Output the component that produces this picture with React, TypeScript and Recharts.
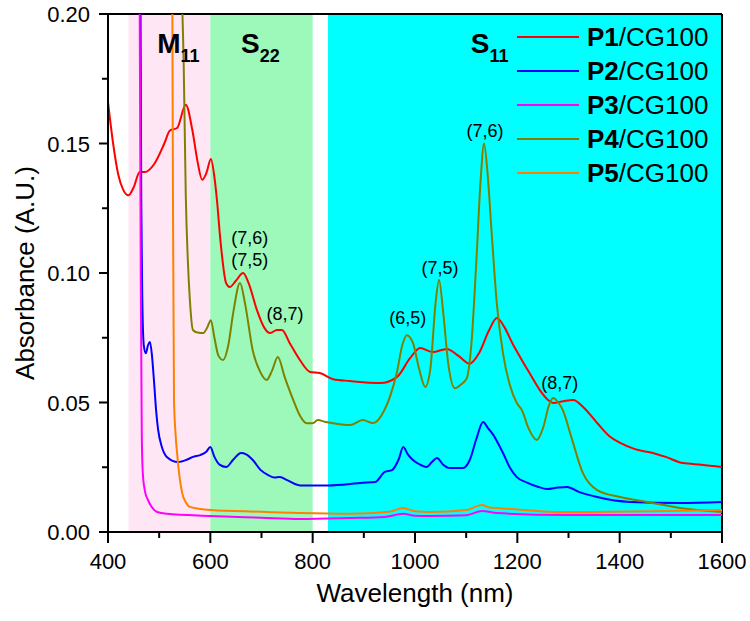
import React from 'react';
import { LineChart, Line, XAxis, YAxis, ReferenceArea, ReferenceLine, ReferenceDot } from 'recharts';

const font = '"Liberation Sans", Arial, sans-serif';

// wavelength (nm), absorbance
const p1 = [
  [400, 0.166], [410, 0.150], [420, 0.138], [430, 0.132], [440, 0.130], [450, 0.133], [462, 0.139],
  [472, 0.139], [490, 0.142], [510, 0.150], [521, 0.155], [535, 0.156], [552, 0.165], [565, 0.155],
  [575, 0.143], [584, 0.136], [593, 0.139], [601, 0.144], [608, 0.137], [613, 0.128], [620, 0.112],
  [631, 0.096], [638, 0.0946], [650, 0.097], [664, 0.100], [675, 0.096], [691, 0.0857], [705, 0.079],
  [717, 0.0768], [730, 0.078], [740, 0.078], [755, 0.073], [775, 0.0664], [795, 0.0618], [814, 0.0614],
  [840, 0.059], [873, 0.0583], [932, 0.0575], [965, 0.0599], [990, 0.067], [1010, 0.071], [1035, 0.0695],
  [1062, 0.0707], [1085, 0.068], [1107, 0.065], [1125, 0.069], [1145, 0.078], [1160, 0.0826], [1175, 0.079],
  [1190, 0.073], [1205, 0.0677], [1225, 0.061], [1244, 0.0548], [1260, 0.051], [1270, 0.0498], [1290, 0.0505],
  [1309, 0.051], [1330, 0.048], [1356, 0.0421], [1380, 0.037], [1401, 0.0344], [1430, 0.032], [1465, 0.0305],
  [1490, 0.029], [1524, 0.0266], [1560, 0.026], [1600, 0.0251],
];

const p2 = [
  [463, 0.23], [465, 0.128], [467, 0.09], [470, 0.072], [474, 0.069], [478, 0.072], [482, 0.0734],
  [486, 0.068], [490, 0.058], [494, 0.047], [498, 0.0394], [505, 0.033], [515, 0.029], [537, 0.027],
  [555, 0.028], [566, 0.029], [580, 0.0297], [592, 0.031], [600, 0.0328], [608, 0.029], [618, 0.026],
  [631, 0.0251], [645, 0.028], [660, 0.0305], [670, 0.030], [683, 0.0278], [698, 0.024], [713, 0.022],
  [725, 0.021], [736, 0.0212], [750, 0.020], [775, 0.018], [830, 0.018], [898, 0.019], [922, 0.0193],
  [941, 0.0232], [955, 0.0239], [968, 0.028], [977, 0.0328], [986, 0.030], [996, 0.0278], [1010, 0.026],
  [1023, 0.0251], [1033, 0.027], [1043, 0.0286], [1055, 0.026], [1068, 0.0247], [1094, 0.0247], [1107, 0.0278],
  [1120, 0.036], [1133, 0.0425], [1143, 0.040], [1153, 0.0375], [1163, 0.034], [1172, 0.0305], [1185, 0.025],
  [1199, 0.0212], [1220, 0.019], [1240, 0.0175], [1258, 0.0166], [1280, 0.0172], [1297, 0.0174], [1320, 0.0155],
  [1356, 0.0135], [1420, 0.0116], [1518, 0.0112], [1600, 0.0116],
];

const p3 = [
  [461, 0.25], [464, 0.10], [466, 0.038], [468, 0.0228], [472, 0.016], [478, 0.0124], [486, 0.0095],
  [496, 0.0077], [515, 0.007], [600, 0.0062], [700, 0.0055], [775, 0.005], [873, 0.0054], [940, 0.0058],
  [977, 0.007], [1000, 0.0063], [1030, 0.0062], [1100, 0.0065], [1131, 0.0081], [1160, 0.0073],
  [1289, 0.0066], [1600, 0.0066],
];

const p4 = [
  [543, 0.215], [548, 0.18], [552, 0.13], [556, 0.105], [560, 0.0896], [566, 0.078], [575, 0.077],
  [586, 0.0768], [594, 0.079], [601, 0.0818], [608, 0.075], [616, 0.068], [625, 0.0664], [635, 0.072],
  [645, 0.085], [658, 0.0961], [668, 0.088], [683, 0.070], [697, 0.062], [710, 0.0587], [720, 0.062],
  [732, 0.0676], [745, 0.060], [762, 0.051], [775, 0.045], [788, 0.042], [800, 0.042], [810, 0.0432],
  [825, 0.0425], [840, 0.042], [873, 0.0413], [898, 0.0432], [918, 0.042], [940, 0.047], [951, 0.0522],
  [965, 0.062], [975, 0.072], [984, 0.076], [996, 0.073], [1008, 0.063], [1020, 0.056], [1030, 0.063],
  [1040, 0.088], [1047, 0.0973], [1055, 0.085], [1065, 0.065], [1078, 0.0555], [1090, 0.057], [1101, 0.0593],
  [1110, 0.072], [1120, 0.105], [1128, 0.135], [1135, 0.150], [1142, 0.138], [1150, 0.115], [1160, 0.088],
  [1172, 0.069], [1185, 0.057], [1199, 0.0498], [1209, 0.047], [1222, 0.040], [1238, 0.0355], [1250, 0.040],
  [1262, 0.049], [1270, 0.0517], [1280, 0.050], [1289, 0.047], [1305, 0.037], [1328, 0.0228], [1356, 0.0162],
  [1401, 0.0135], [1453, 0.0116], [1518, 0.0093], [1600, 0.0077],
];

const p5 = [
  [525, 0.25], [527, 0.128], [529, 0.051], [532, 0.038], [535, 0.0305], [540, 0.021], [545, 0.015],
  [552, 0.0115], [560, 0.0097], [600, 0.0085], [700, 0.0078], [775, 0.0073], [873, 0.007], [950, 0.0078],
  [977, 0.0093], [1000, 0.008], [1030, 0.0077], [1100, 0.0085], [1131, 0.0104], [1145, 0.0095], [1160, 0.0093],
  [1289, 0.0077], [1600, 0.0085],
];

const seriesNames = ['P1', 'P2', 'P3', 'P4', 'P5'];
const seriesColors = ['#ff0000', '#0000ff', '#ff00ff', '#808000', '#ff8000'];
const seriesData = [p1, p2, p3, p4, p5];

const xTicks = [400, 500, 600, 700, 800, 900, 1000, 1100, 1200, 1300, 1400, 1500, 1600];
const yTicks = [0, 0.025, 0.05, 0.075, 0.1, 0.125, 0.15, 0.175, 0.2];

// bands: [from, to, colour]
const bands: [number, number, string][] = [
  [440, 600, '#ffe6f4'],
  [600, 800, '#9cf9b9'],
  [830, 1600, '#00ffff'],
];

// band titles: main letter, subscript, x, y
const bandLabels: [string, string, number, number][] = [
  ['M', '11', 498, 0.1846],
  ['S', '22', 662, 0.1846],
  ['S', '11', 1111, 0.1846],
];

// chirality labels: text, x, y (centre)
const peakLabels: [string, number, number][] = [
  ['(7,6)', 677, 0.1135],
  ['(7,5)', 677, 0.105],
  ['(8,7)', 746, 0.0842],
  ['(6,5)', 986, 0.0826],
  ['(7,5)', 1049, 0.1019],
  ['(7,6)', 1137, 0.1548],
  ['(8,7)', 1283, 0.0575],
];

const toRows = (arr: number[][]) => arr.map(([x, y]) => ({ x, y }));
const isMajorX = (v: number) => v % 200 === 0;
const isMajorY = (v: number) => Math.round(v * 1000) % 50 === 0;

const XTick = (props: any) => {
  const { x, y, payload } = props;
  if (!isMajorX(payload.value)) return <g />;
  return (
    <text x={x} y={y + 37} textAnchor="middle" fontSize={22} fontFamily={font} fill="#000">
      {payload.value}
    </text>
  );
};

const YTick = (props: any) => {
  const { x, y, payload } = props;
  if (!isMajorY(payload.value)) return <g />;
  return (
    <text x={x - 18} y={y + 8} textAnchor="end" fontSize={22} fontFamily={font} fill="#000">
      {payload.value.toFixed(2)}
    </text>
  );
};

const LegendBox = () => (
  <div style={{ position: 'absolute', left: 517, top: 20, fontFamily: font }}>
    {seriesNames.map((n, i) => (
      <div key={n} style={{ display: 'flex', alignItems: 'center', height: 34 }}>
        <div style={{ width: 62, height: 2, background: seriesColors[i], marginRight: 8 }} />
        <span style={{ fontSize: 26, color: '#000', lineHeight: '34px', whiteSpace: 'nowrap' }}>
          <b>{n}</b>/CG100
        </span>
      </div>
    ))}
  </div>
);

export default function App() {
  return (
    <div style={{ position: 'absolute', left: 0, top: 0, width: 750, height: 621, background: '#fff' }}>
      <LineChart width={750} height={621} margin={{ top: 14, right: 28, left: 8, bottom: 9 }}>
        {bands.map(([a, b, c]) => (
          <ReferenceArea key={a} x1={a} x2={b} y1={0} y2={0.2} fill={c} fillOpacity={1} stroke="none" />
        ))}
        <XAxis
          dataKey="x"
          type="number"
          domain={[400, 1600]}
          ticks={xTicks}
          interval={0}
          allowDataOverflow
          height={80}
          tickSize={0}
          tickMargin={0}
          tickLine={false}
          tick={<XTick />}
          axisLine={{ stroke: '#000', strokeWidth: 2 }}
          label={{
            content: (p: any) => (
              <text x={p.viewBox.x + p.viewBox.width / 2} y={602} textAnchor="middle" fontSize={26} fontFamily={font} fill="#000">
                Wavelength (nm)
              </text>
            ),
          }}
        />
        <YAxis
          type="number"
          domain={[0, 0.2]}
          ticks={yTicks}
          interval={0}
          allowDataOverflow
          width={100}
          tickSize={0}
          tickMargin={0}
          tickLine={false}
          tick={<YTick />}
          axisLine={{ stroke: '#000', strokeWidth: 2 }}
          label={{
            content: () => (
              <text
                x={34}
                y={273}
                transform="rotate(-90 34 273)"
                textAnchor="middle"
                fontSize={26}
                fontFamily={font}
                fill="#000"
              >
                Absorbance (A.U.)
              </text>
            ),
          }}
        />
        <ReferenceLine y={0.2} stroke="#000" strokeWidth={2} />
        <ReferenceLine x={1600} stroke="#000" strokeWidth={2} />
        {/* outward tick marks: major long, minor short */}
        {xTicks.map((v) => (
          <ReferenceLine
            key={'xt' + v}
            segment={[{ x: v, y: 0 }, { x: v, y: isMajorX(v) ? -0.00425 : -0.0023 }]}
            ifOverflow="visible"
            stroke="#000"
            strokeWidth={2}
          />
        ))}
        {yTicks.map((v) => (
          <ReferenceLine
            key={'yt' + v}
            segment={[{ x: 400, y: v }, { x: isMajorY(v) ? 382.4 : 388.3, y: v }]}
            ifOverflow="visible"
            stroke="#000"
            strokeWidth={2}
          />
        ))}
        {seriesData.map((d, i) => (
          <Line
            key={seriesNames[i]}
            data={toRows(d)}
            dataKey="y"
            type="monotone"
            stroke={seriesColors[i]}
            strokeWidth={2}
            dot={false}
            isAnimationActive={false}
            name={seriesNames[i]}
          />
        ))}
        {bandLabels.map(([m, s, x, y]) => (
          <ReferenceDot
            key={m + s + x}
            x={x}
            y={y}
            r={1}
            fill="none"
            stroke="none"
            label={{
              content: (p: any) => (
                <text x={p.viewBox.x} y={p.viewBox.y} fontFamily={font} fill="#000" fontWeight="bold">
                  <tspan fontSize={28}>{m}</tspan>
                  <tspan fontSize={18} dy={9}>{s}</tspan>
                </text>
              ),
            }}
          />
        ))}
        {peakLabels.map(([t, x, y], i) => (
          <ReferenceDot
            key={i}
            x={x}
            y={y}
            r={1}
            fill="none"
            stroke="none"
            label={{
              content: (p: any) => (
                <text
                  x={p.viewBox.x + p.viewBox.width / 2}
                  y={p.viewBox.y + p.viewBox.height / 2 + 6}
                  textAnchor="middle"
                  fontSize={18}
                  fontFamily={font}
                  fill="#000"
                >
                  {t}
                </text>
              ),
            }}
          />
        ))}
      </LineChart>
      <LegendBox />
    </div>
  );
}
